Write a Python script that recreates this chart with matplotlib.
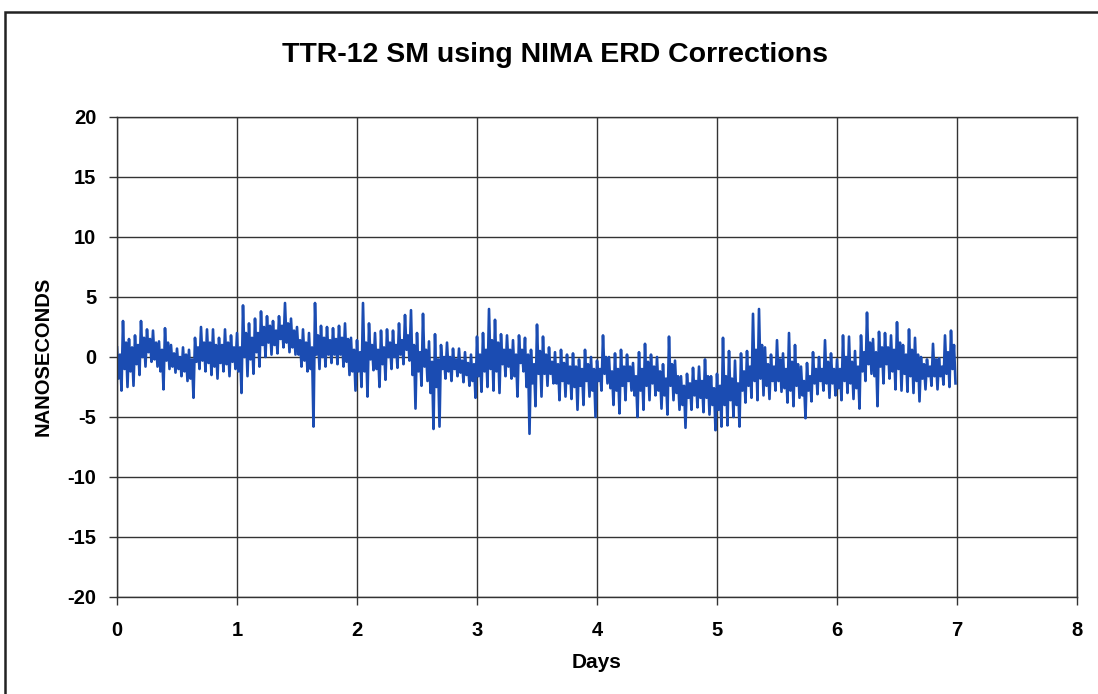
import numpy as np
import matplotlib
matplotlib.use("Agg")
import matplotlib.pyplot as plt
from matplotlib.patches import Rectangle

plt.rcParams['font.family'] = ['Liberation Sans', 'DejaVu Sans']
plt.rcParams['font.weight'] = 'bold'
plt.rcParams['axes.unicode_minus'] = False

# trace read per 0.05 day: spike top / spike bottom and the dense core band
day0_hi = [0.8, 3.0, 1.5, 1.8, 3.0, 2.3, 2.2, 1.3, 2.4, 1.0, 0.7, 0.8, 0.6, 1.6, 2.5, 2.3, 2.3, 1.6, 2.3, 1.8]
day0_lo = [-2.8, -2.5, -2.4, -1.5, -0.8, -0.4, -0.8, -2.7, -1.0, -1.3, -1.6, -2.0, -3.4, -1.0, -1.2, -1.5, -1.8, -1.2, -1.6, -1.0]
day0_chi = [0.2, 1.2, 0.8, 1.0, 1.6, 1.5, 1.2, 0.6, 1.2, 0.3, 0.0, 0.2, -0.2, 0.8, 1.2, 1.2, 1.0, 1.0, 1.2, 0.8]
day0_clo = [-1.8, -1.0, -1.2, -0.6, 0.0, 0.4, -0.2, -1.2, -0.3, -0.8, -1.0, -1.2, -1.8, -0.4, -0.3, -0.5, -0.8, -0.5, -0.6, -0.4]

day1_hi = [2.0, 4.3, 2.8, 3.2, 3.8, 3.4, 3.0, 3.4, 4.5, 3.2, 2.5, 2.3, 2.0, 4.5, 2.6, 2.5, 2.4, 2.6, 2.8, 1.6]
day1_lo = [-3.0, -1.6, -1.4, -0.8, 0.0, 0.2, 0.3, 0.8, 0.4, 0.2, -0.8, -1.2, -5.8, -1.0, -0.8, -0.5, -0.6, -0.8, -1.5, -2.8]
day1_chi = [0.8, 2.0, 1.6, 2.0, 2.5, 2.6, 2.2, 2.6, 2.8, 2.2, 1.4, 1.2, 0.8, 1.8, 1.6, 1.4, 1.5, 1.6, 1.5, 0.6]
day1_clo = [-1.2, 0.0, -0.2, 0.4, 1.0, 1.2, 1.0, 1.5, 1.2, 0.8, 0.2, -0.3, -1.0, 0.2, 0.0, 0.2, 0.2, 0.2, -0.4, -1.2]

day2_hi = [1.4, 4.5, 2.8, 2.0, 2.2, 2.3, 2.2, 2.8, 3.5, 3.9, 2.0, 3.6, 1.3, 1.9, 1.0, 1.2, 0.7, 0.7, 0.4, 0.2]
day2_lo = [-2.5, -3.3, -1.1, -2.5, -1.9, -1.0, -0.9, -0.6, -0.3, -4.3, -2.4, -2.0, -6.0, -5.8, -1.8, -2.0, -1.6, -2.1, -2.4, -3.4]
day2_chi = [0.4, 1.2, 1.0, 0.6, 0.8, 1.2, 1.0, 1.4, 1.8, 1.0, 0.4, 0.6, -0.4, -0.2, 0.0, 0.0, -0.2, -0.3, -0.5, -0.6]
day2_clo = [-1.2, -1.2, -0.2, -1.0, -0.6, 0.0, 0.0, 0.2, 0.6, -1.5, -1.2, -0.8, -3.0, -2.5, -1.0, -1.2, -1.0, -1.3, -1.5, -2.0]

day3_hi = [1.7, 2.0, 4.0, 3.1, 1.9, 1.8, 1.4, 1.8, 1.6, 0.6, 2.7, 1.7, 0.8, 0.4, 0.6, 0.2, 0.3, -0.2, 0.6, 0.0]
day3_lo = [-2.9, -2.5, -2.8, -3.0, -1.6, -1.8, -3.3, -1.2, -6.4, -4.1, -3.3, -2.4, -2.2, -3.6, -3.3, -3.5, -4.4, -4.0, -3.3, -5.0]
day3_chi = [0.2, 0.6, 1.4, 1.2, 0.6, 0.6, 0.2, 0.6, 0.2, -0.6, 0.5, 0.2, -0.4, -0.6, -0.5, -0.8, -0.8, -1.0, -0.6, -1.0]
day3_clo = [-1.6, -1.2, -1.0, -1.2, -0.6, -0.8, -1.6, -0.5, -2.5, -2.2, -1.4, -1.4, -1.4, -2.2, -2.0, -2.2, -2.5, -2.4, -2.0, -2.8]

day4_hi = [-0.3, 1.8, 0.0, 0.3, 0.6, 0.2, -0.5, 0.4, 1.1, 0.2, 0.0, -0.6, 1.7, -0.3, -1.6, -1.4, -0.9, -0.8, -0.2, -1.6]
day4_lo = [-2.8, -2.2, -4.0, -4.7, -3.6, -2.8, -5.0, -4.4, -3.6, -3.2, -4.3, -4.8, -3.6, -4.4, -5.9, -4.4, -4.2, -4.6, -4.8, -6.1]
day4_chi = [-1.0, 0.0, -1.2, -1.0, -0.8, -0.8, -1.6, -1.0, -0.4, -0.8, -1.2, -1.8, -0.6, -1.6, -2.4, -2.2, -2.0, -2.0, -1.6, -2.6]
day4_clo = [-2.0, -1.4, -2.6, -2.8, -2.4, -2.0, -3.2, -2.8, -2.4, -2.2, -2.8, -3.2, -2.4, -3.0, -4.0, -3.4, -3.2, -3.4, -3.4, -4.0]

day5_hi = [-1.4, 1.6, 0.5, -0.3, 0.3, 0.5, 3.6, 4.0, 0.8, 0.2, 1.4, 0.3, 2.0, 1.0, -0.8, -0.5, 0.4, 0.0, 1.4, 0.3]
day5_lo = [-5.8, -5.7, -5.0, -5.8, -3.8, -3.4, -3.6, -3.2, -3.5, -2.8, -2.9, -3.8, -4.1, -3.4, -5.1, -3.7, -3.1, -2.8, -3.4, -3.2]
day5_chi = [-2.4, -1.6, -1.8, -2.2, -1.2, -0.8, 0.6, 1.0, -0.6, -0.8, -0.2, -1.0, -0.4, -0.6, -2.0, -1.6, -1.0, -1.0, -0.4, -1.0]
day5_clo = [-4.4, -4.0, -3.6, -4.0, -2.8, -2.4, -2.0, -1.8, -2.4, -2.0, -2.0, -2.6, -2.8, -2.4, -3.2, -2.8, -2.2, -2.0, -2.2, -2.2]

day6_hi = [-0.2, 1.8, 1.7, 0.5, 1.8, 3.7, 1.5, 2.1, 2.0, 1.8, 2.9, 1.0, 2.3, 1.6, 0.0, -0.2, 1.1, -0.1, 1.8, 2.2]
day6_lo = [-3.6, -3.0, -3.5, -4.3, -2.0, -1.4, -4.1, -2.2, -1.8, -2.7, -2.8, -2.9, -3.0, -3.7, -2.7, -2.4, -2.7, -2.3, -2.5, -2.2]
day6_chi = [-1.0, 0.0, -0.4, -0.8, 0.4, 1.2, 0.4, 0.8, 0.8, 0.6, 1.2, 0.2, 0.6, 0.2, -0.6, -0.8, -0.2, -0.8, 0.4, 1.0]
day6_clo = [-2.6, -2.0, -2.2, -2.6, -1.2, -0.6, -1.6, -0.8, -0.6, -1.2, -1.0, -1.4, -1.6, -2.0, -1.8, -1.6, -1.6, -1.6, -1.4, -1.0]

hi = day0_hi + day1_hi + day2_hi + day3_hi + day4_hi + day5_hi + day6_hi
lo = day0_lo + day1_lo + day2_lo + day3_lo + day4_lo + day5_lo + day6_lo
chi = day0_chi + day1_chi + day2_chi + day3_chi + day4_chi + day5_chi + day6_chi
clo = day0_clo + day1_clo + day2_clo + day3_clo + day4_clo + day5_clo + day6_clo

# order inside each bin: top, core bottom, core top, bottom
ns = np.column_stack([hi, clo, chi, lo]).ravel()
days = np.arange(len(ns)) * 0.0125

fig = plt.figure(figsize=(10.98, 6.94), dpi=100)
ax = fig.add_axes([117/1098, 1-597/694, 960/1098, 480/694])

ax.plot(days, ns, color='#1b4cb2', lw=1.9)

ax.set_xlim(0, 8)
ax.set_ylim(-20, 20)
ax.set_xticks(range(0, 9))
ax.set_yticks(range(-20, 21, 5))
ax.grid(True, color='#333333', lw=1.0)
ax.set_axisbelow(True)
for s in ax.spines.values():
    s.set_color('#333333')
    s.set_linewidth(1.0)
ax.tick_params(direction='out', length=6, width=1.0, color='#333333', labelsize=14.5)
ax.tick_params(axis='x', pad=11)
ax.tick_params(axis='y', pad=9)
for lab in ax.get_xticklabels() + ax.get_yticklabels():
    lab.set_fontweight('bold')

fig.text(555/1098, 1-55/694, 'TTR-12 SM using NIMA ERD Corrections', ha='center', va='center',
         fontsize=20.5, fontweight='bold')
fig.text(597/1098, 1-662/694, 'Days', ha='center', va='center', fontsize=15, fontweight='bold')
fig.text(43/1098, 1-356/694, 'NANOSECONDS', ha='center', va='center', rotation=90,
         fontsize=14.5, fontweight='bold')

fig.patches.append(Rectangle((5/1098, -0.1), 1.2, 1.1 - 12/694, transform=fig.transFigure,
                             fill=False, edgecolor='#222222', lw=1.8))

fig.savefig('out.png', dpi=100)
